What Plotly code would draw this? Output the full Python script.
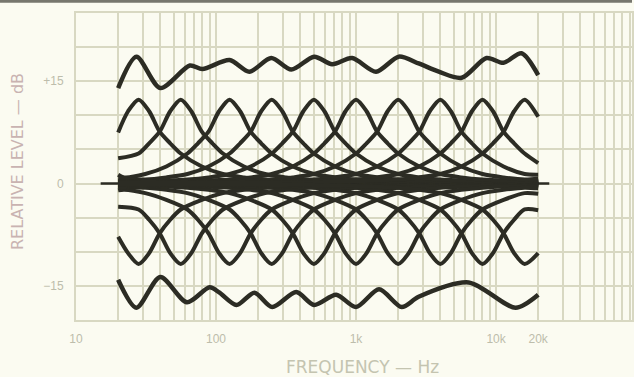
import plotly.graph_objects as go

# centre frequencies of the ten sliders (Hz)
band_hz = [28, 56, 125, 250, 500, 1000, 2000, 4000, 8000, 16000]

# response of one slider at full boost / full cut vs. distance from its centre (octaves)
offset_oct = [-6, -5, -4, -3, -2.5, -2, -1.5, -1, -0.75, -0.5, -0.25, 0,
              0.25, 0.5, 0.75, 1, 1.5, 2, 2.5, 3, 4, 5, 6]
boost_db = [0.1, 0.2, 0.35, 0.6, 0.9, 1.4, 2.5, 4.4, 5.9, 7.6, 10.6, 12.3,
            10.6, 7.6, 5.9, 4.4, 2.5, 1.4, 0.9, 0.6, 0.35, 0.2, 0.1]
cut_db = [-0.1, -0.2, -0.35, -0.6, -0.9, -1.4, -2.4, -3.8, -5.3, -7.3, -10.2, -11.8,
          -10.2, -7.3, -5.3, -3.8, -2.4, -1.4, -0.9, -0.6, -0.35, -0.2, -0.1]

# where each slider curve starts (20 Hz) and stops (20 kHz)
boost_at_20hz = [7.5, 3.7, 1.3, 0.7, 0.4, 0.3, 0.2, 0.1, 0.1, 0.1]
boost_at_20k = [0.1, 0.1, 0.1, 0.2, 0.3, 0.4, 0.7, 1.3, 3.0, 9.8]
cut_at_20hz = [-7.8, -3.4, -1.0, -0.6, -0.4, -0.3, -0.2, -0.1, -0.1, -0.1]
cut_at_20k = [-0.1, -0.1, -0.1, -0.2, -0.3, -0.4, -0.7, -1.5, -3.9, -10.2]

# all sliders up
top_hz = [20, 27, 40, 65, 80, 125, 173, 248, 345, 502, 675, 937, 1390, 2020,
          2800, 3900, 5680, 8550, 11300, 15200, 20000]
top_db = [14.0, 18.6, 14.0, 17.3, 16.8, 18.1, 16.4, 18.4, 16.7, 18.6, 17.5, 18.4,
          16.4, 18.6, 17.6, 16.4, 15.5, 18.4, 17.7, 19.1, 15.9]

# all sliders down
bottom_hz = [20, 27, 40, 62, 90, 106, 140, 188, 252, 374, 502, 721, 1000, 1460,
             2120, 2800, 6370, 13800, 20000]
bottom_db = [-14.1, -18.2, -13.7, -17.4, -15.2, -16.0, -17.8, -16.0, -18.1, -15.9,
             -17.8, -16.3, -18.1, -15.5, -18.1, -16.6, -14.5, -18.2, -16.3]

# sliders flat
flat_hz = [15, 24000]
flat_db = [0, 0]

# axis ticks
x_grid = [m * 10 ** d for d in range(1, 5) for m in range(1, 10)]
x_labels = {10: '10', 100: '100', 1000: '1k', 10000: '10k', 20000: '20k'}
y_grid = list(range(-20, 30, 5))
y_labels = {15: '+15', 0: '0', -15: '\u221215'}

INK = '#2c2c24'
GRID = '#d8d8c2'
BG = '#fbfbf1'


def band_curve(centre, shape, lo, hi):
    xs, ys = [20], [lo]
    for o, v in zip(offset_oct, shape):
        f = centre * 2 ** o
        if 20 * 1.08 < f < 20000 / 1.08:
            xs.append(f)
            ys.append(v)
    xs.append(20000)
    ys.append(hi)
    return xs, ys


def line(x, y, w=4):
    return go.Scatter(x=x, y=y, mode='lines', line=dict(color=INK, width=w, shape='spline', smoothing=0.8),
                      hoverinfo='skip', showlegend=False)


data = [line(flat_hz, flat_db, 2.5)]
for i, c in enumerate(band_hz):
    data.append(line(*band_curve(c, boost_db, boost_at_20hz[i], boost_at_20k[i])))
    data.append(line(*band_curve(c, cut_db, cut_at_20hz[i], cut_at_20k[i])))
data.append(line(top_hz, top_db, 4.5))
data.append(line(bottom_hz, bottom_db, 4.5))

tick_font = dict(family='Liberation Sans', size=12, color='#bdbdab')

layout = go.Layout(
    width=634, height=377,
    margin=dict(l=76, r=0, t=13, b=57),
    paper_bgcolor=BG, plot_bgcolor=BG,
    xaxis=dict(type='log', range=[1, 4.971],
               tickvals=x_grid, ticktext=[x_labels.get(v, '') for v in x_grid],
               showgrid=True, gridcolor=GRID, gridwidth=2,
               showline=True, linecolor=GRID, linewidth=2, mirror=True,
               ticks='outside', ticklen=7, tickcolor='rgba(0,0,0,0)',
               tickfont=tick_font, zeroline=False, fixedrange=True),
    yaxis=dict(range=[-20, 25],
               tickvals=y_grid, ticktext=[y_labels.get(v, '') for v in y_grid],
               showgrid=True, gridcolor=GRID, gridwidth=2,
               showline=True, linecolor=GRID, linewidth=2, mirror=True,
               ticks='outside', ticklen=8, tickcolor='rgba(0,0,0,0)',
               tickfont=tick_font, zeroline=False, fixedrange=True),
    annotations=[
        dict(text='FREQUENCY \u2014 Hz', xref='paper', yref='paper', x=0.516, y=-0.153,
             xanchor='center', yanchor='middle', showarrow=False,
             font=dict(family='DejaVu Sans', size=17, color='#c4c4b0')),
        dict(text='RELATIVE LEVEL \u2014 dB', xref='paper', yref='paper', x=-0.104, y=0.515,
             xanchor='center', yanchor='middle', textangle=-90, showarrow=False,
             font=dict(family='DejaVu Sans', size=16, color='#c9b3b1')),
    ],
    shapes=[
        dict(type='rect', xref='paper', yref='paper', x0=-0.2, x1=1.0, y0=1.033, y1=1.05,
             fillcolor='#77776e', line=dict(width=0), layer='above'),
    ],
)

fig = go.Figure(data=data, layout=layout)
fig.write_html('out.html', config={'displayModeBar': False},
               post_script="document.body.style.margin='0';")
